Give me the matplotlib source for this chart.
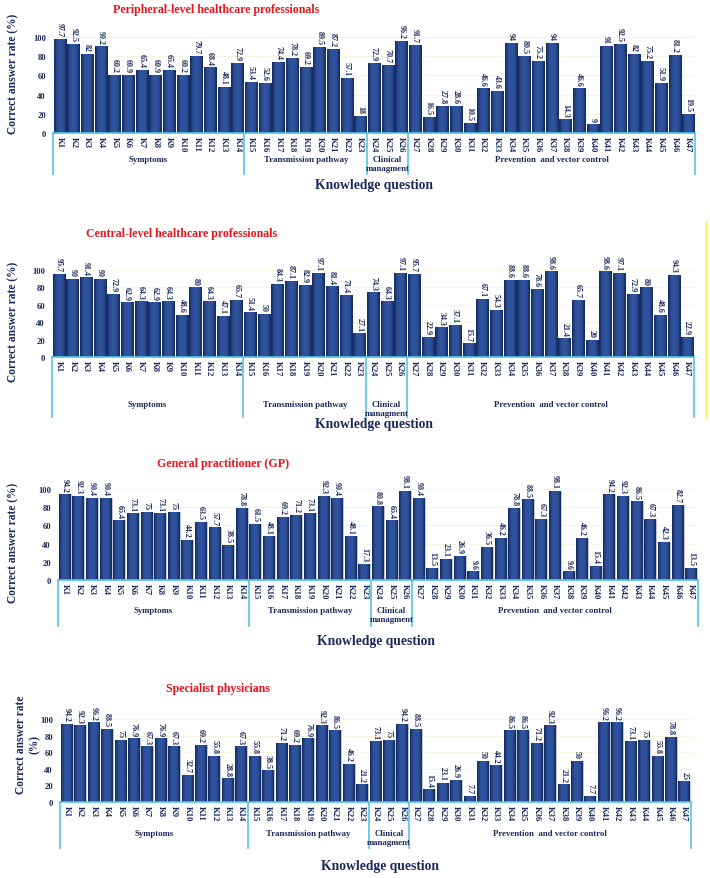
import numpy as np
import matplotlib
matplotlib.use('Agg')
import matplotlib.pyplot as plt
from matplotlib.colors import LinearSegmentedColormap
from matplotlib.lines import Line2D

# -------------------------------------------------------
# DATA
# -------------------------------------------------------
questions = [f'K{i}' for i in range(1, 48)]

peripheral = [97.7, 92.5, 82, 90.2, 60.2, 60.9, 65.4, 60.9, 65.4, 60.2, 79.7, 68.4, 48.1, 72.9,
              53.4, 52.6, 74.4, 78.2, 69.2, 89.5, 87.2, 57.1, 18,
              72.9, 70.7, 96.2,
              91.7, 16.5, 27.8, 28.6, 10.5, 46.6, 43.6, 94, 80.5, 75.2, 94, 14.3, 46.6, 9,
              91, 92.5, 82, 75.2, 51.9, 81.2, 19.5]
central = [95.7, 90, 91.4, 90, 72.9, 62.9, 64.3, 62.9, 64.3, 48.6, 80, 64.3, 47.1, 65.7,
           51.4, 50, 84.3, 87.1, 82.9, 97.1, 81.4, 71.4, 27.1,
           74.3, 64.3, 97.1,
           95.7, 22.9, 34.3, 37.1, 15.7, 67.1, 54.3, 88.6, 88.6, 78.6, 98.6, 21.4, 65.7, 20,
           98.6, 97.1, 72.9, 80, 48.6, 94.3, 22.9]
gp = [94.2, 92.3, 90.4, 90.4, 65.4, 73.1, 75, 73.1, 75, 44.2, 63.5, 57.7, 38.5, 78.8,
      61.5, 48.1, 69.2, 71.2, 73.1, 92.3, 90.4, 48.1, 17.3,
      80.8, 65.4, 98.1,
      90.4, 13.5, 23.1, 26.9, 9.6, 36.5, 46.2, 78.8, 88.5, 67.3, 98.1, 9.6, 46.2, 15.4,
      94.2, 92.3, 86.5, 67.3, 42.3, 82.7, 13.5]
specialist = [94.2, 92.3, 96.2, 88.5, 75, 76.9, 67.3, 76.9, 67.3, 32.7, 69.2, 55.8, 28.8, 67.3,
              55.8, 38.5, 71.2, 69.2, 76.9, 92.3, 86.5, 46.2, 21.2,
              73.1, 75, 94.2,
              88.5, 15.4, 23.1, 26.9, 7.7, 50, 44.2, 86.5, 86.5, 71.2, 92.3, 21.2, 50, 7.7,
              96.2, 96.2, 73.1, 75, 55.8, 78.8, 25]

group_names = ['Symptoms', 'Transmission pathway', 'Clinical\nmanagment', 'Prevention  and vector control']
group_sizes = [14, 9, 3, 21]

titles = ['Peripheral-level healthcare professionals',
          'Central-level healthcare professionals',
          'General practitioner (GP)',
          'Specialist physicians']
ylabels = ['Correct answer rate (%)', 'Correct answer rate (%)',
           'Correct answer rate (%)', 'Correct answer rate\n(%)']

# -------------------------------------------------------
# LAYOUT (pixels, top-left origin)
# -------------------------------------------------------
W, H = 710, 879
panels = [
    # left, right, y100, y0, title(x,y), group label y, bracket y, xlabel(x,y), ylabel(x,y)
    dict(l=53, r=695, t=38, z=134, tt=(216, 10), gl=161, br=175, kq=(374, 186), yl=(13, 74)),
    dict(l=52, r=694, t=271, z=358, tt=(182, 234), gl=406, br=418, kq=(374, 425), yl=(13, 322)),
    dict(l=58, r=698, t=490, z=581, tt=(223, 464), gl=612, br=627, kq=(376, 641), yl=(13, 543)),
    dict(l=60, r=691, t=720, z=803, tt=(218, 689), gl=835, br=849, kq=(380, 867), yl=(28, 745)),
]

navy = '#1b2a5c'
cyan = '#55c4e4'
font = 'Liberation Serif'
plt.rcParams['font.family'] = font
plt.rcParams['font.weight'] = 'bold'

bar_cmap = LinearSegmentedColormap.from_list('barg', ['#13295c', '#2c4f97', '#2f549e', '#2c4f97', '#13295c'])
grad = np.linspace(0, 1, 64).reshape(1, -1)

fig = plt.figure(figsize=(W / 100, H / 100), dpi=100)
fig.patch.set_facecolor('white')

for vals, title, ylab, p in zip([peripheral, central, gp, specialist], titles, ylabels, panels):
    hpx = p['z'] - p['t']
    ax = fig.add_axes([p['l'] / W, 1 - p['z'] / H, (p['r'] - p['l']) / W, hpx / H])
    x = np.arange(len(questions))
    bars = ax.bar(x, vals, width=0.88, color='#21417f', edgecolor='#c9ced8', linewidth=0.6, zorder=2)
    # shaded fill inside each bar
    for b in bars:
        im = ax.imshow(grad, cmap=bar_cmap, aspect='auto', zorder=2.5,
                       extent=[b.get_x(), b.get_x() + b.get_width(), 0, b.get_height()])
        im.set_clip_path(b)
    ax.set_xlim(-0.5, len(questions) - 0.5)
    ax.set_ylim(0, 100)
    ax.set_aspect('auto')

    for i, v in enumerate(vals):
        ax.text(i, v + 3, f'{v:g}', rotation=270, ha='center', va='bottom',
                fontsize=5.8, color=navy, fontweight='bold', clip_on=False)

    ax.set_yticks([0, 20, 40, 60, 80, 100])
    ax.tick_params(axis='y', length=0, pad=5, labelsize=6.2, labelcolor=navy)
    ax.set_xticks(x)
    ax.set_xticklabels(questions, rotation=270, fontsize=6.2, color=navy, fontweight='bold')
    ax.tick_params(axis='x', length=0, pad=2)
    ax.yaxis.grid(True, color='#f4f2dc', linewidth=0.6)
    ax.set_axisbelow(True)
    for s in ['top', 'right', 'left']:
        ax.spines[s].set_visible(False)
    ax.spines['bottom'].set_color(cyan)
    ax.spines['bottom'].set_linewidth(1.2)

    # group brackets and labels
    ybr = -(p['br'] - p['z']) / hpx
    ygl = -(p['gl'] - 5 - p['z']) / hpx
    tr = ax.get_xaxis_transform()
    edges = np.concatenate([[0], np.cumsum(group_sizes)]) - 0.5
    for e in edges:
        ax.plot([e, e], [0, ybr], transform=tr, color=cyan, lw=1.2, clip_on=False)
    for name, a, b2 in zip(group_names, edges[:-1], edges[1:]):
        ax.text((a + b2) / 2, ygl, name, transform=tr, ha='center', va='top',
                fontsize=6.3, color=navy, fontweight='bold', linespacing=1.1)

    fig.text(p['tt'][0] / W, 1 - p['tt'][1] / H, title, ha='center', va='center',
             fontsize=8.6, color='#e8141c', fontweight='bold')
    fig.text(p['kq'][0] / W, 1 - p['kq'][1] / H, 'Knowledge question', ha='center', va='center',
             fontsize=9.8, color=navy, fontweight='bold')
    fig.text(p['yl'][0] / W, 1 - p['yl'][1] / H, ylab, ha='center', va='center', rotation=90,
             fontsize=8.3, color=navy, fontweight='bold', linespacing=1.2)

# thin yellow edge line beside the second panel
fig.add_artist(Line2D([706 / W, 706 / W], [1 - 222 / H, 1 - 420 / H], color='#f3ee6a', lw=1.0))

plt.savefig('out.png', dpi=100)
